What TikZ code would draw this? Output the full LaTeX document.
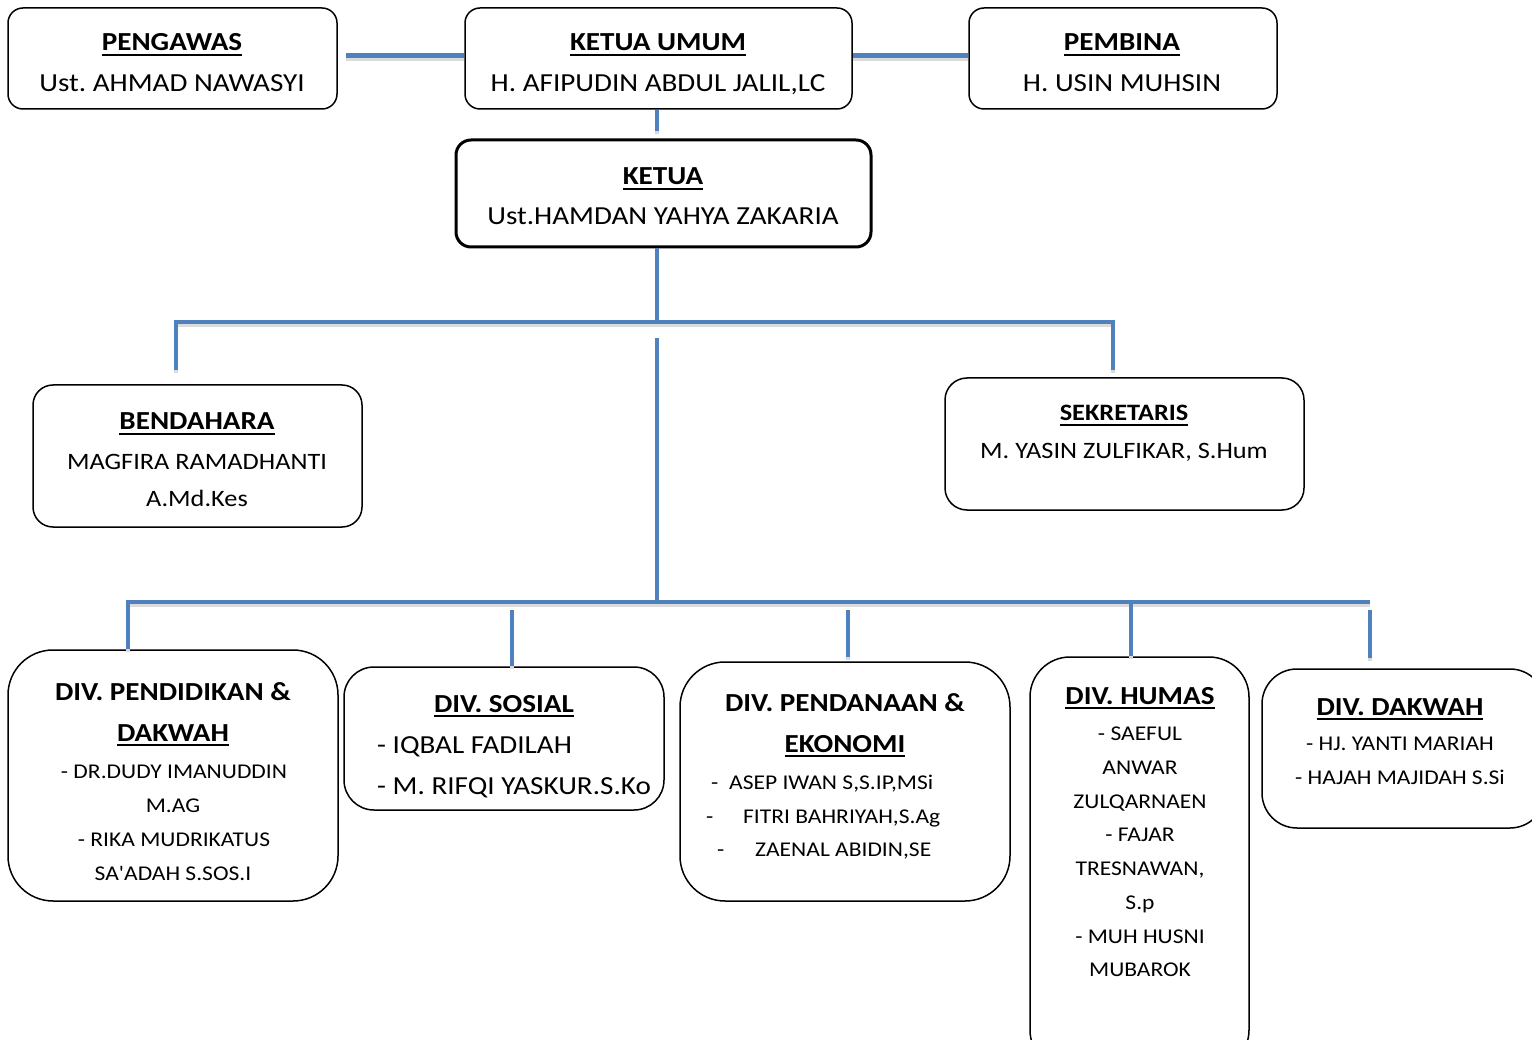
\documentclass[tikz,border=0pt]{standalone}
\usepackage{fontspec}
\setmainfont{Carlito}[FakeStretch=1.12]
\newfontfamily\sqfont{Carlito}[FakeStretch=1.12]
\newcommand\hdr[1]{\setbox0\hbox{#1}\rlap{\rule[-5pt]{\wd0}{2pt}}\box0}
\definecolor{cblue}{HTML}{4F81BD}
\frenchspacing
\tikzset{
  box/.style={draw=black, line width=1.5pt, rounded corners=15pt, inner sep=0pt},
  lbl/.style={inner sep=0pt, anchor=base},
  lblw/.style={inner sep=0pt, anchor=base west},
  fbig/.style={font=\fontsize{26}{30}\selectfont},
  fmid/.style={font=\fontsize{23.5}{28}\selectfont},
  fsmall/.style={font=\fontsize{21}{25}\selectfont},
  conn/.style={draw=cblue, line width=4.5pt,
    preaction={draw=black!14, line width=4.5pt, transform canvas={yshift=-3pt}}},
}
\begin{document}
\begin{tikzpicture}[x=1pt,y=-1pt]
\useasboundingbox (0,0) rectangle (1532,1040);
\clip (0,0) rectangle (1532,1040);

% boxes
\node[box, minimum width=329pt, minimum height=101pt] (pengawas) at (172.5,58.5) {};
\node[box, minimum width=387pt, minimum height=101pt] (ketuaumum) at (658.5,58.5) {};
\node[box, minimum width=308pt, minimum height=101pt] (pembina) at (1123,58.5) {};
\node[box, line width=3pt, minimum width=415pt, minimum height=107pt] (ketua) at (663.5,193.5) {};
\node[box, rounded corners=20pt, minimum width=329pt, minimum height=142pt] (bendahara) at (197.5,456) {};
\node[box, rounded corners=22pt, minimum width=359pt, minimum height=132pt] (sekretaris) at (1124.5,444) {};
\node[box, rounded corners=45pt, minimum width=330pt, minimum height=251pt] (divpend) at (173,775.5) {};
\node[box, rounded corners=30pt, minimum width=320pt, minimum height=143pt] (divsos) at (504,738.5) {};
\node[box, rounded corners=45pt, minimum width=330pt, minimum height=239pt] (divdana) at (845,781.5) {};
\node[box, rounded corners=40pt, minimum width=219pt, minimum height=413pt] (divhumas) at (1139.5,863.5) {};
\node[box, rounded corners=35pt, minimum width=283pt, minimum height=159pt] (divdakwah) at (1403.5,748.5) {};

% connectors
\draw[conn] ([xshift=8pt,yshift=3pt]pengawas.east) -- ([yshift=3pt]ketuaumum.west);
\draw[conn] ([yshift=3pt]ketuaumum.east) -- ([yshift=3pt]pembina.west);
\coordinate (k1) at (657,131);
\draw[conn] (k1 |- ketuaumum.south) -- (k1);
\coordinate (j1) at (657,322);
\draw[conn] (j1 |- ketua.south) -- (j1);
\coordinate (bl) at (176,322);
\coordinate (br) at (1113,322);
\coordinate (ble) at (176,370);
\coordinate (bre) at (1113,370);
\draw[conn] (ble) -- (bl) -- (br) -- (bre);
\coordinate (j2) at (657,338);
\coordinate (j3) at (657,602);
\draw[conn] (j2) -- (j3);
\coordinate (hl) at (128,602);
\coordinate (hr) at (1370,602);
\draw[conn] (hl |- divpend.north) -- (hl) -- (hr);
\coordinate (s1) at (512,610);
\draw[conn] (s1) -- (s1 |- divsos.north);
\coordinate (d1) at (848,610);
\coordinate (d1e) at (848,657);
\draw[conn] (d1) -- (d1e);
\coordinate (h1) at (1131,602);
\draw[conn] (h1) -- (h1 |- divhumas.north);
\coordinate (w1) at (1370,610);
\coordinate (w1e) at (1370,658);
\draw[conn] (w1) -- (w1e);

% labels
\node[lbl, fbig] (pengawasA) at (172,51) {\textbf{\hdr{PENGAWAS}}};
\node[lbl, fbig] (pengawasB) at (172,92) {Ust. AHMAD NAWASYI};
\node[lbl, fbig] (ketuaumumA) at (658,51) {\textbf{\hdr{KETUA UMUM}}};
\node[lbl, fbig] (ketuaumumB) at (658,92) {H. AFIPUDIN ABDUL JALIL,LC};
\node[lbl, fbig] (pembinaA) at (1122,51) {\textbf{\hdr{PEMBINA}}};
\node[lbl, fbig] (pembinaB) at (1122,92) {H. USIN MUHSIN};
\node[lbl, fbig] (ketuaA) at (663,185) {\textbf{\hdr{KETUA}}};
\node[lbl, fbig] (ketuaB) at (663,225) {Ust.HAMDAN YAHYA ZAKARIA};

\node[lbl, fbig] (bendA) at (197,430) {\textbf{\hdr{BENDAHARA}}};
\node[lbl, fmid] (bendB) at (197,469) {MAGFIRA RAMADHANTI};
\node[lbl, fmid] (bendC) at (197,506) {A.Md.Kes};

\node[lbl, fmid] (sekA) at (1124,421) {\textbf{\hdr{SEKRETARIS}}};
\node[lbl, fmid] (sekB) at (1124,459) {M. YASIN ZULFIKAR, S.Hum};

\node[lbl, fbig] (pendA) at (173,700) {\textbf{DIV. PENDIDIKAN \&}};
\node[lbl, fbig] (pendB) at (173,741) {\textbf{\hdr{DAKWAH}}};
\node[lbl, fsmall] (pendC) at (174,778) {- DR.DUDY IMANUDDIN};
\node[lbl, fsmall] (pendD) at (173,812) {M.AG};
\node[lbl, fsmall] (pendE) at (174,846) {- RIKA MUDRIKATUS};
\node[lbl, fsmall] (pendF) at (173,880) {SA{\sqfont'}ADAH S.SOS.I};

\node[lbl, fbig] (sosA) at (504,712) {\textbf{\hdr{DIV. SOSIAL}}};
\begin{scope}
\clip (344,660) rectangle (657,812);
\node[lblw, fbig] (sosB) at (377,753) {- IQBAL FADILAH};
\node[lblw, fbig] (sosC) at (377,794) {- M. RIFQI YASKUR.S.Ko};
\end{scope}

\node[lbl, fbig] (danaA) at (845,711) {\textbf{DIV. PENDANAAN \&}};
\node[lbl, fbig] (danaB) at (845,752) {\textbf{\hdr{EKONOMI}}};
\node[lblw, fsmall] (danaC) at (711,789) {\makebox[18pt][l]{-}ASEP IWAN S,S.IP,MSi};
\node[lblw, fsmall] (danaD) at (706,823) {\makebox[37pt][l]{-}FITRI BAHRIYAH,S.Ag};
\node[lblw, fsmall] (danaE) at (717,856) {\makebox[38pt][l]{-}ZAENAL ABIDIN,SE};

\node[lbl, fbig] (humA) at (1140,704) {\textbf{\hdr{DIV. HUMAS}}};
\node[lbl, fsmall] (humB) at (1140,740) {- SAEFUL};
\node[lbl, fsmall] (humC) at (1140,774) {ANWAR};
\node[lbl, fsmall] (humD) at (1140,808) {ZULQARNAEN};
\node[lbl, fsmall] (humE) at (1140,841) {- FAJAR};
\node[lbl, fsmall] (humF) at (1140,875) {TRESNAWAN,};
\node[lbl, fsmall] (humG) at (1140,909) {S.p};
\node[lbl, fsmall] (humH) at (1140,943) {- MUH HUSNI};
\node[lbl, fsmall] (humI) at (1140,976) {MUBAROK};

\node[lbl, fbig] (dakA) at (1400,715) {\textbf{\hdr{DIV. DAKWAH}}};
\node[lbl, fsmall] (dakB) at (1400,750) {- HJ. YANTI MARIAH};
\node[lbl, fsmall] (dakC) at (1400,784) {- HAJAH MAJIDAH S.Si};
\end{tikzpicture}
\end{document}
